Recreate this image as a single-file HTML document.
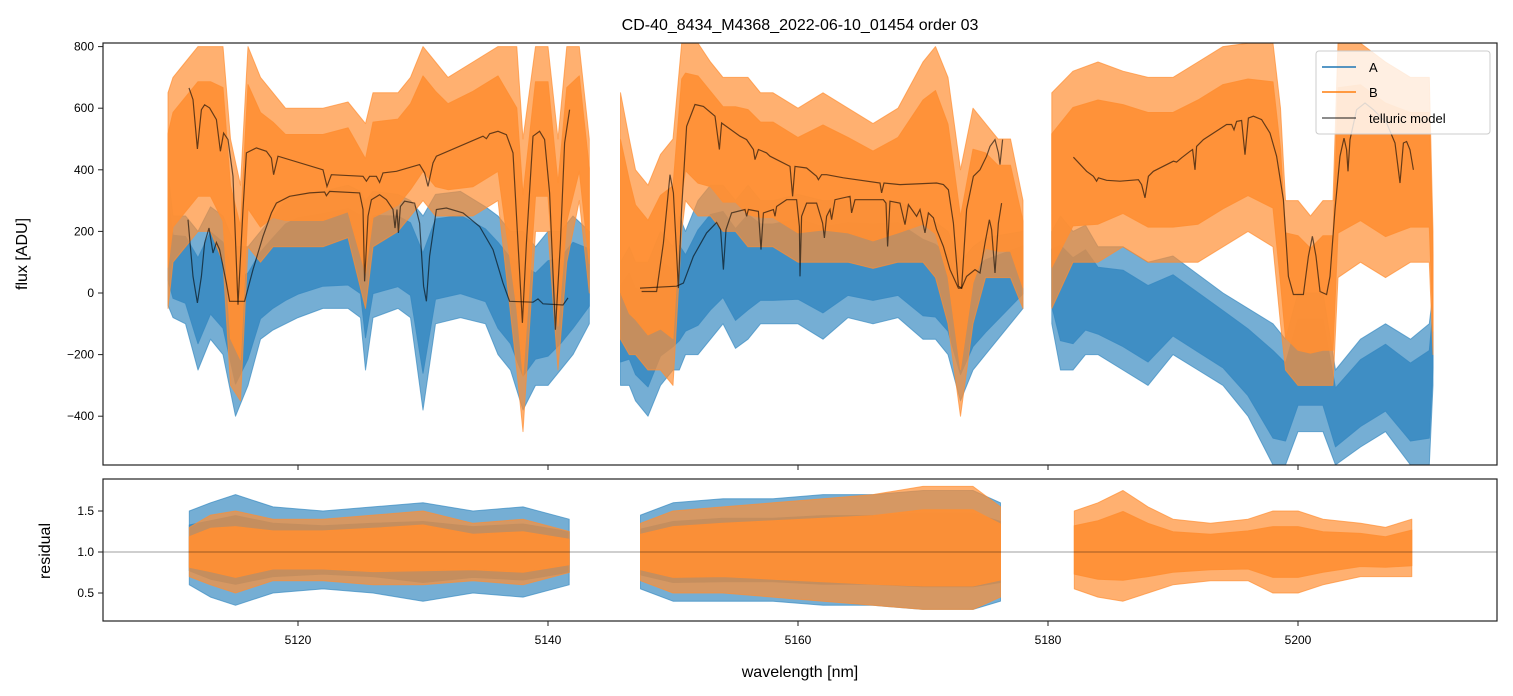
<!DOCTYPE html>
<html><head><meta charset="utf-8"><style>
body{margin:0;background:#fff;}
svg{display:block;font-family:"Liberation Sans","DejaVu Sans",sans-serif;}
</style></head><body>
<svg id="chart" width="1513" height="696" viewBox="0 0 1513 696" xmlns="http://www.w3.org/2000/svg">
<defs>
<clipPath id="clipTop"><rect x="103" y="43" width="1394" height="422"/></clipPath>
<clipPath id="clipBot"><rect x="103" y="479" width="1394" height="142"/></clipPath>
</defs>
<rect width="1513" height="696" fill="#fff"/>
<text x="800" y="30" font-size="16" text-anchor="middle">CD-40_8434_M4368_2022-06-10_01454  order 03</text>
<g id="gTop" clip-path="url(#clipTop)"></g>
<g id="gBot" clip-path="url(#clipBot)"></g>
<g id="axes"></g>
<text transform="translate(27,254) rotate(-90)" font-size="16" text-anchor="middle">flux [ADU]</text>
<text transform="translate(50,551) rotate(-90)" font-size="16" text-anchor="middle">residual</text>
<text x="800" y="677" font-size="16" text-anchor="middle">wavelength [nm]</text>
<g>
<rect x="1316" y="51" width="174" height="83" rx="3" fill="#fff" fill-opacity="0.8" stroke="#ccc"/>
<line x1="1322" y1="67" x2="1356" y2="67" stroke="#1f77b4" stroke-width="1.5"/>
<text x="1369" y="72" font-size="13">A</text>
<line x1="1322" y1="92" x2="1356" y2="92" stroke="#ff7f0e" stroke-width="1.5"/>
<text x="1369" y="97" font-size="13">B</text>
<line x1="1322" y1="118" x2="1356" y2="118" stroke="#000" stroke-opacity="0.6" stroke-width="1.5"/>
<text x="1369" y="123" font-size="13">telluric model</text>
</g>
</svg>
<script>
// flux envelopes: [wavelength, low, high]
const fluxA1=[[5109.6,-40,390],[5110,-80,250],[5111,-100,250],[5112,-250,200],[5113,-150,280],[5114,-200,250],[5115,-400,150],[5116,-300,150],[5117,-150,200],[5118,-120,250],[5119,-100,300],[5120,-80,320],[5122,-50,330],[5124,-50,350],[5125,-80,330],[5125.4,-250,300],[5126,-80,330],[5128,-50,320],[5129,-80,300],[5130,-380,250],[5131,-100,320],[5133,-80,330],[5135,-100,280],[5136,-200,250],[5137,-250,200],[5138,-380,200],[5139,-300,150],[5140,-300,200],[5141,-250,200],[5142,-200,250],[5143.3,-100,200]];
const fluxB1=[[5109.6,-50,650],[5110,100,700],[5111,150,750],[5112,200,800],[5113,200,800],[5114,100,800],[5114.6,-300,500],[5115.4,-350,350],[5116,150,800],[5117,100,700],[5118,150,650],[5119,150,600],[5120,150,600],[5122,150,600],[5124,180,620],[5125.4,-50,550],[5126,150,650],[5128,200,650],[5129,250,700],[5130,300,800],[5131,250,750],[5132,250,700],[5134,250,750],[5136,300,800],[5137.5,-250,800],[5138,-450,500],[5139,200,800],[5140,200,800],[5140.8,-250,500],[5141.5,100,800],[5142.5,300,800],[5143.3,0,500]];
const fluxA2=[[5145.8,-300,100],[5146.5,-300,150],[5147,-350,100],[5148,-400,100],[5149,-300,200],[5150,-250,150],[5150.5,-250,250],[5151,-200,200],[5152,-200,300],[5153,-150,350],[5154,-100,350],[5155,-180,300],[5156,-150,350],[5157,-100,300],[5158,-100,300],[5160,-100,320],[5162,-150,300],[5164,-80,300],[5166,-100,300],[5168,-80,300],[5170,-150,250],[5171,-150,230],[5172,-200,200],[5173,-350,100],[5174,-250,150],[5175,-200,180],[5178,-50,200]];
const fluxB2=[[5145.8,-150,650],[5146.5,-200,500],[5147,-200,400],[5148,-250,350],[5149,-250,450],[5150,-300,500],[5150.7,200,811],[5151,300,811],[5152,250,811],[5153,250,750],[5154,200,700],[5155,200,700],[5156,150,700],[5157,150,650],[5158,150,650],[5160,100,600],[5162,100,650],[5164,100,600],[5166,80,550],[5168,100,600],[5170,100,750],[5171,50,800],[5172,-100,700],[5173,-400,400],[5174,-100,600],[5175,50,550],[5176,50,500],[5177,50,500],[5178,-50,300]];
const fluxA3=[[5180.3,-100,200],[5181,-250,250],[5182,-250,200],[5183,-200,220],[5184,-200,150],[5186,-250,150],[5188,-300,100],[5190,-200,120],[5192,-250,60],[5194,-300,0],[5196,-400,-50],[5198,-558,-100],[5199,-558,-150],[5200,-450,0],[5202,-450,0],[5203,-558,-250],[5205,-500,-150],[5207,-450,-100],[5209,-558,-150],[5210.5,-558,-100],[5210.8,-300,0]];
const fluxB3=[[5180.3,-50,650],[5182,100,720],[5184,100,750],[5186,150,720],[5188,100,700],[5190,100,700],[5192,100,750],[5194,150,800],[5196,200,811],[5198,150,811],[5198.6,-100,600],[5199,-250,300],[5200,-300,300],[5201,-300,250],[5202,-300,300],[5202.8,-300,300],[5203.2,50,811],[5205,100,811],[5207,50,750],[5209,100,700],[5210.5,100,700],[5210.8,-200,200]];
// telluric models: [wavelength, value]
const tellB1=[[5111.28,666],[5111.6,628],[5111.95,468],[5112.27,595],[5112.53,611],[5112.93,601],[5113.47,563],[5113.79,460],[5114.05,519],[5114.4,498],[5114.8,379],[5115.2,-38],[5115.6,271],[5115.87,455],[5116.67,471],[5117.47,460],[5117.87,438],[5118.05,384],[5118.4,444],[5122.0,400],[5122.32,346],[5122.67,384],[5125.2,379],[5125.47,363],[5125.73,379],[5126.27,379],[5126.53,359],[5126.8,390],[5127.87,395],[5129.73,417],[5130.13,390],[5130.4,346],[5130.8,422],[5131.07,444],[5134.8,509],[5135.07,501],[5135.33,517],[5136.0,525],[5136.67,514],[5137.2,455],[5137.6,162],[5137.95,-97],[5138.27,162],[5138.8,509],[5139.33,525],[5139.73,498],[5140.13,325],[5140.59,-119],[5140.99,162],[5141.33,487],[5141.73,595]];
const tellA1=[[5111.2,238],[5111.6,54],[5111.95,-32],[5112.27,54],[5112.53,162],[5112.88,211],[5113.2,130],[5113.47,164],[5113.73,141],[5114.27,32],[5114.53,-27],[5115.73,-27],[5116.4,76],[5117.2,184],[5117.87,260],[5118.27,292],[5119.33,314],[5120.93,325],[5122.13,328],[5122.27,316],[5122.53,330],[5124.93,325],[5125.2,271],[5125.33,38],[5125.6,249],[5125.87,303],[5126.53,319],[5127.07,303],[5127.6,271],[5127.76,211],[5127.92,271],[5128.03,195],[5128.19,281],[5128.53,298],[5129.33,292],[5129.73,227],[5130.05,22],[5130.27,-27],[5130.53,119],[5131.07,271],[5131.87,276],[5133.2,260],[5134.53,216],[5135.6,141],[5136.4,32],[5136.93,-27],[5138.8,-30],[5139.2,-19],[5139.6,-35],[5141.2,-39],[5141.6,-16]];
const tellB2=[[5147.49,5],[5148.69,5],[5149.23,162],[5149.76,384],[5150.03,325],[5150.43,16],[5150.69,271],[5151.09,541],[5151.76,612],[5152.43,606],[5153.36,574],[5153.71,466],[5153.89,552],[5155.36,509],[5155.89,498],[5156.43,466],[5156.56,433],[5156.83,466],[5157.49,455],[5157.76,444],[5159.36,411],[5159.57,314],[5159.76,411],[5160.69,406],[5161.49,379],[5161.63,368],[5161.89,384],[5162.29,384],[5163.63,374],[5166.56,357],[5166.69,325],[5166.88,357],[5168.16,352],[5171.09,357],[5171.63,352],[5172.03,335],[5172.43,227],[5172.83,22],[5173.09,16],[5173.49,271],[5174.03,379],[5174.56,400],[5175.09,444],[5175.36,476],[5175.76,498],[5176.03,455],[5176.16,417],[5176.37,498]];
const tellA2=[[5147.36,16],[5150.29,22],[5150.83,32],[5151.63,119],[5152.69,195],[5153.49,229],[5153.81,206],[5154.03,76],[5154.24,206],[5154.69,260],[5155.76,271],[5155.89,249],[5156.03,271],[5156.83,265],[5157.04,141],[5157.23,260],[5158.03,271],[5158.16,249],[5158.29,281],[5159.09,303],[5159.89,303],[5160.11,216],[5160.16,54],[5160.29,249],[5160.69,292],[5161.49,292],[5161.97,227],[5162.11,179],[5162.29,249],[5162.56,271],[5162.69,238],[5162.96,303],[5164.16,314],[5164.29,260],[5164.56,303],[5166.83,303],[5167.04,292],[5167.17,151],[5167.36,298],[5168.16,292],[5168.56,222],[5168.83,287],[5169.49,249],[5169.76,271],[5170.16,195],[5170.43,260],[5170.83,244],[5171.09,206],[5171.63,151],[5172.16,76],[5172.83,16],[5173.09,16],[5173.49,54],[5174.16,76],[5174.56,65],[5174.96,162],[5175.31,238],[5175.49,206],[5175.76,65],[5176.03,227],[5176.29,292]];
const tellB3=[[5182.03,441],[5183.09,395],[5183.63,379],[5183.89,363],[5184.03,374],[5184.69,366],[5185.76,363],[5187.23,368],[5187.49,352],[5187.76,309],[5188.03,379],[5188.43,395],[5190.03,428],[5190.29,425],[5190.69,439],[5191.36,460],[5191.57,466],[5191.76,400],[5191.89,476],[5192.43,498],[5194.29,547],[5194.69,547],[5194.88,530],[5195.09,557],[5195.49,560],[5195.76,449],[5196.03,568],[5196.43,574],[5197.09,563],[5197.76,519],[5198.29,444],[5198.83,303],[5199.23,54],[5199.63,-5],[5200.43,-5],[5200.83,119],[5201.15,184],[5201.44,119],[5201.76,5],[5202.29,-5],[5202.56,54],[5202.96,271],[5203.36,444],[5203.68,503],[5203.89,465],[5204.0,395],[5204.16,498],[5204.69,595],[5205.36,617],[5206.03,595],[5207.09,552],[5207.76,487],[5208.16,357],[5208.43,487],[5208.69,492],[5208.96,465],[5209.23,400]];
// residual envelopes: [wavelength, low, high]
const resA1=[[5111.3,0.6,1.5],[5113,0.45,1.6],[5115,0.35,1.7],[5118,0.5,1.55],[5122,0.55,1.5],[5126,0.5,1.55],[5130,0.4,1.6],[5134,0.5,1.5],[5138,0.45,1.55],[5141.7,0.6,1.4]];
const resB1=[[5111.3,0.7,1.3],[5113,0.6,1.45],[5115,0.5,1.5],[5118,0.65,1.4],[5122,0.65,1.4],[5126,0.6,1.45],[5130,0.6,1.5],[5134,0.65,1.35],[5138,0.6,1.4],[5141.7,0.75,1.25]];
const resA2=[[5147.4,0.55,1.45],[5150,0.4,1.6],[5154,0.4,1.65],[5158,0.4,1.65],[5162,0.35,1.7],[5166,0.35,1.7],[5170,0.3,1.75],[5174,0.3,1.75],[5176.2,0.4,1.6]];
const resB2=[[5147.4,0.65,1.35],[5150,0.5,1.5],[5154,0.5,1.55],[5158,0.45,1.6],[5162,0.4,1.65],[5166,0.35,1.7],[5170,0.3,1.8],[5174,0.3,1.8],[5176.2,0.45,1.55]];
const resB3=[[5182.1,0.55,1.5],[5184,0.45,1.6],[5186,0.4,1.75],[5188,0.5,1.55],[5190,0.6,1.4],[5193,0.65,1.35],[5196,0.65,1.4],[5198,0.5,1.5],[5200,0.5,1.5],[5202,0.6,1.4],[5205,0.7,1.35],[5207,0.7,1.3],[5209.1,0.7,1.4]];
const xTicks=[5120,5140,5160,5180,5200];
const yTicksTop=[800,600,400,200,0,-200,-400];
const yTicksBot=[0.5,1.0,1.5];

const NS='http://www.w3.org/2000/svg';
const X=l=>298+(l-5120)*12.5;
const YT=v=>293-v*0.308;
const YB=v=>552-(v-1)*82;
function mk(tag,at,parent){const e=document.createElementNS(NS,tag);for(const k in at)e.setAttribute(k,at[k]);parent.appendChild(e);return e;}
const gTop=document.getElementById('gTop'),gBot=document.getElementById('gBot'),axes=document.getElementById('axes');
function poly(arr,yf,lo,hi,color,op,parent,name){
  const up=arr.map(d=>X(d[0]).toFixed(1)+','+yf(hi(d)).toFixed(1));
  const dn=arr.slice().reverse().map(d=>X(d[0]).toFixed(1)+','+yf(lo(d)).toFixed(1));
  const p=mk('polygon',{points:up.concat(dn).join(' '),fill:color,'fill-opacity':op,stroke:color,'stroke-opacity':op,'stroke-width':1,'stroke-linejoin':'round'},parent);
  
  
}
function band(arr,yf,color,parent,name){
  poly(arr,yf,d=>d[1],d=>d[2],color,0.7,parent,name+'-outer');
  const k=0.62;
  poly(arr,yf,d=>(d[1]+d[2])/2-(d[2]-d[1])/2*k,d=>(d[1]+d[2])/2+(d[2]-d[1])/2*k,color,0.9,parent,name+'-core');
}
function line(arr,parent,name){
  const p=mk('polyline',{points:arr.map(d=>X(d[0]).toFixed(1)+','+YT(d[1]).toFixed(1)).join(' '),fill:'none',stroke:'#000','stroke-opacity':0.6,'stroke-width':1.2},parent);
  
  
}
[fluxA1,fluxA2,fluxA3].forEach((a,i)=>band(a,YT,'#3a8bc2',gTop,'flux-a-seg'+(i+1)));
[fluxB1,fluxB2,fluxB3].forEach((a,i)=>band(a,YT,'#ff8f33',gTop,'flux-b-seg'+(i+1)));
[tellA1,tellB1,tellA2,tellB2,tellB3].forEach((a,i)=>line(a,gTop,'telluric-line-'+(i+1)));
[resA1,resA2].forEach((a,i)=>band(a,YB,'#3a8bc2',gBot,'residual-a-seg'+(i+1)));
[resB1,resB2,resB3].forEach((a,i)=>band(a,YB,'#ff8f33',gBot,'residual-b-seg'+(i+1)));
const ref=mk('line',{x1:103,x2:1497,y1:YB(1),y2:YB(1),stroke:'#000','stroke-opacity':0.5,'stroke-width':0.8},gBot);


const f1=mk('rect',{x:103,y:43,width:1394,height:422,fill:'none',stroke:'#222','stroke-width':1.2},axes);


const f2=mk('rect',{x:103,y:479,width:1394,height:142,fill:'none',stroke:'#222','stroke-width':1.2},axes);


xTicks.forEach(t=>{
  const x=X(t);
  mk('line',{x1:x,x2:x,y1:465,y2:470,stroke:'#222'},axes);
  mk('line',{x1:x,x2:x,y1:621,y2:626,stroke:'#222'},axes);
  const tx=mk('text',{x:x,y:644,'font-size':12,'text-anchor':'middle'},axes);
  tx.textContent=t;
  
  
});
yTicksTop.forEach(t=>{
  const y=YT(t);
  mk('line',{x1:98,x2:103,y1:y,y2:y,stroke:'#222'},axes);
  const tx=mk('text',{x:94,y:y+4,'font-size':12,'text-anchor':'end'},axes);
  tx.textContent=t<0?'\u2212'+(-t):t;
  
  
});
yTicksBot.forEach(t=>{
  const y=YB(t);
  mk('line',{x1:98,x2:103,y1:y,y2:y,stroke:'#222'},axes);
  const tx=mk('text',{x:94,y:y+4,'font-size':12,'text-anchor':'end'},axes);
  tx.textContent=t.toFixed(1);
  
  
});
</script>
</body></html>
